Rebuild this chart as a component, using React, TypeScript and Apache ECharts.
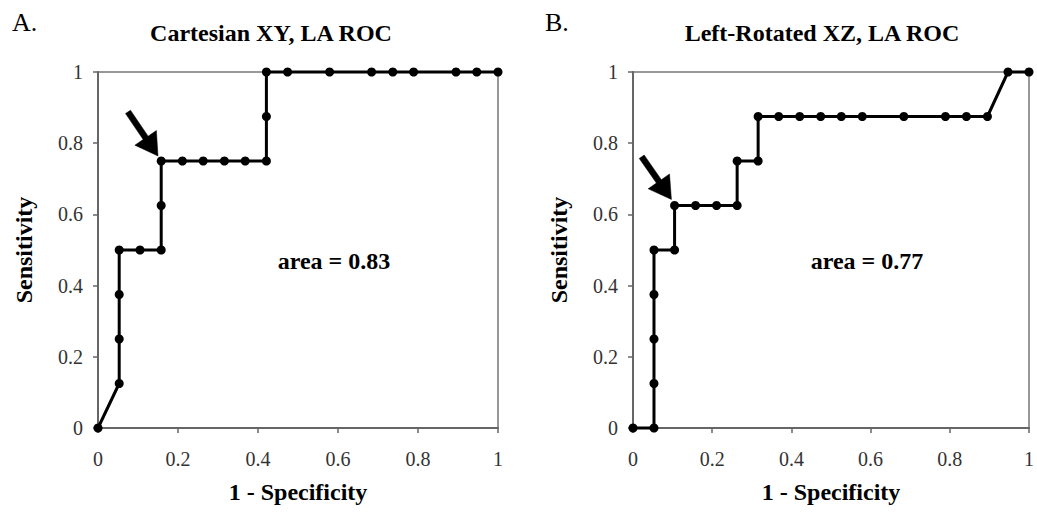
import React, { useEffect, useRef } from "react";
import * as echarts from "echarts";

// Panel A: Cartesian XY, LA ROC
const specA = [0, 0.053, 0.053, 0.053, 0.053, 0.105, 0.158, 0.158, 0.158, 0.211, 0.263, 0.316, 0.368, 0.421, 0.421, 0.421, 0.474, 0.579, 0.684, 0.737, 0.789, 0.895, 0.947, 1];
const sensA = [0, 0.125, 0.25, 0.375, 0.5, 0.5, 0.5, 0.625, 0.75, 0.75, 0.75, 0.75, 0.75, 0.75, 0.875, 1, 1, 1, 1, 1, 1, 1, 1, 1];

// Panel B: Left-Rotated XZ, LA ROC
const specB = [0, 0.053, 0.053, 0.053, 0.053, 0.053, 0.105, 0.105, 0.158, 0.211, 0.263, 0.263, 0.316, 0.316, 0.368, 0.421, 0.474, 0.526, 0.579, 0.684, 0.789, 0.842, 0.895, 0.947, 1];
const sensB = [0, 0, 0.125, 0.25, 0.375, 0.5, 0.5, 0.625, 0.625, 0.625, 0.625, 0.75, 0.75, 0.875, 0.875, 0.875, 0.875, 0.875, 0.875, 0.875, 0.875, 0.875, 0.875, 1, 1];

const titles = ["Cartesian XY, LA ROC", "Left-Rotated XZ, LA ROC"];
const panelLetters = ["A.", "B."];
const areaLabels = ["area = 0.83", "area = 0.77"];

// arrow annotations in data coords: [tail, tip]
const arrowA = [[0.075, 0.888], [0.15, 0.764]];
const arrowB = [[0.022, 0.762], [0.097, 0.642]];

const FONT = "'Liberation Serif', 'Times New Roman', Times, serif";

function arrowPoints(tail: number[], tip: number[], shaftW: number, headLen: number, headW: number) {
  const dx = tip[0] - tail[0];
  const dy = tip[1] - tail[1];
  const len = Math.hypot(dx, dy) || 1;
  const ux = dx / len, uy = dy / len;
  const nx = -uy, ny = ux;
  const bx = tip[0] - ux * headLen, by = tip[1] - uy * headLen;
  return [
    [tail[0] + nx * shaftW / 2, tail[1] + ny * shaftW / 2],
    [bx + nx * shaftW / 2, by + ny * shaftW / 2],
    [bx + nx * headW / 2, by + ny * headW / 2],
    [tip[0], tip[1]],
    [bx - nx * headW / 2, by - ny * headW / 2],
    [bx - nx * shaftW / 2, by - ny * shaftW / 2],
    [tail[0] - nx * shaftW / 2, tail[1] - ny * shaftW / 2],
  ];
}

export default function App() {
  const ref = useRef<HTMLDivElement>(null);

  useEffect(() => {
    const chart = echarts.init(ref.current!, null, { renderer: "svg" });

    const mkX = (gi: number) => ({
      type: "value",
      gridIndex: gi,
      min: 0,
      max: 1,
      interval: 0.2,
      axisLine: { show: true, lineStyle: { color: "#666", width: 2 } },
      axisTick: { show: true, inside: false, length: 5, lineStyle: { color: "#666", width: 1.5 } },
      axisLabel: { color: "#333", fontFamily: FONT, fontSize: 20, margin: 21 },
      splitLine: { show: false },
      name: "1 - Specificity",
      nameLocation: "middle",
      nameGap: 52,
      nameTextStyle: { fontFamily: FONT, fontWeight: "bold", fontSize: 24, color: "#000" },
    });
    const mkY = (gi: number) => ({
      type: "value",
      gridIndex: gi,
      min: 0,
      max: 1,
      interval: 0.2,
      axisLine: { show: true, lineStyle: { color: "#666", width: 2 } },
      axisTick: { show: true, inside: false, length: 5, lineStyle: { color: "#666", width: 1.5 } },
      axisLabel: { color: "#333", fontFamily: FONT, fontSize: 20, margin: 15 },
      splitLine: { show: false },
      name: "Sensitivity",
      nameLocation: "middle",
      nameGap: 62,
      nameTextStyle: { fontFamily: FONT, fontWeight: "bold", fontSize: 24, color: "#000" },
    });

    const mkSeries = (gi: number, xs: number[], ys: number[]) => ({
      type: "line",
      xAxisIndex: gi,
      yAxisIndex: gi,
      data: xs.map((x, i) => [x, ys[i]]),
      symbol: "circle",
      symbolSize: 9,
      showAllSymbol: true,
      clip: false,
      lineStyle: { color: "#000", width: 3 },
      itemStyle: { color: "#000" },
    });

    const grids = [
      { left: 98, top: 72, width: 400, height: 356 },
      { left: 633, top: 72, width: 399, height: 356 },
    ];

    const textGraphics = [
      { type: "text", x: 12, y: 22, style: { text: panelLetters[0], font: `26px ${FONT}`, fill: "#000", verticalAlign: "middle" } },
      { type: "text", x: 545, y: 22, style: { text: panelLetters[1], font: `26px ${FONT}`, fill: "#000", verticalAlign: "middle" } },
      { type: "text", x: 271, y: 33, style: { text: titles[0], font: `bold 24px ${FONT}`, fill: "#000", align: "center", verticalAlign: "middle" } },
      { type: "text", x: 822, y: 33, style: { text: titles[1], font: `bold 24px ${FONT}`, fill: "#000", align: "center", verticalAlign: "middle" } },
      { type: "text", x: 334, y: 261, style: { text: areaLabels[0], font: `bold 24px ${FONT}`, fill: "#000", align: "center", verticalAlign: "middle" } },
      { type: "text", x: 867, y: 261, style: { text: areaLabels[1], font: `bold 24px ${FONT}`, fill: "#000", align: "center", verticalAlign: "middle" } },
    ];

    chart.setOption({
      animation: false,
      backgroundColor: "#fff",
      grid: grids.map((g) => ({ ...g, show: true, borderColor: "#777", borderWidth: 1.5, backgroundColor: "#fff" })),
      xAxis: [mkX(0), mkX(1)],
      yAxis: [mkY(0), mkY(1)],
      series: [mkSeries(0, specA, sensA), mkSeries(1, specB, sensB)],
      graphic: textGraphics,
    });

    const arrows = [arrowA, arrowB].map((a, gi) => {
      const tail = chart.convertToPixel({ gridIndex: gi }, a[0]) as number[];
      const tip = chart.convertToPixel({ gridIndex: gi }, a[1]) as number[];
      return {
        type: "polygon",
        silent: true,
        z: 100,
        shape: { points: arrowPoints(tail, tip, 6, 22, 26) },
        style: { fill: "#000", stroke: "#000", lineWidth: 0.5 },
      };
    });

    chart.setOption({ graphic: [...textGraphics, ...arrows] });

    return () => chart.dispose();
  }, []);

  return (
    <div
      ref={ref}
      style={{ position: "absolute", left: 0, top: 0, width: 1037, height: 513, background: "#fff" }}
    />
  );
}
